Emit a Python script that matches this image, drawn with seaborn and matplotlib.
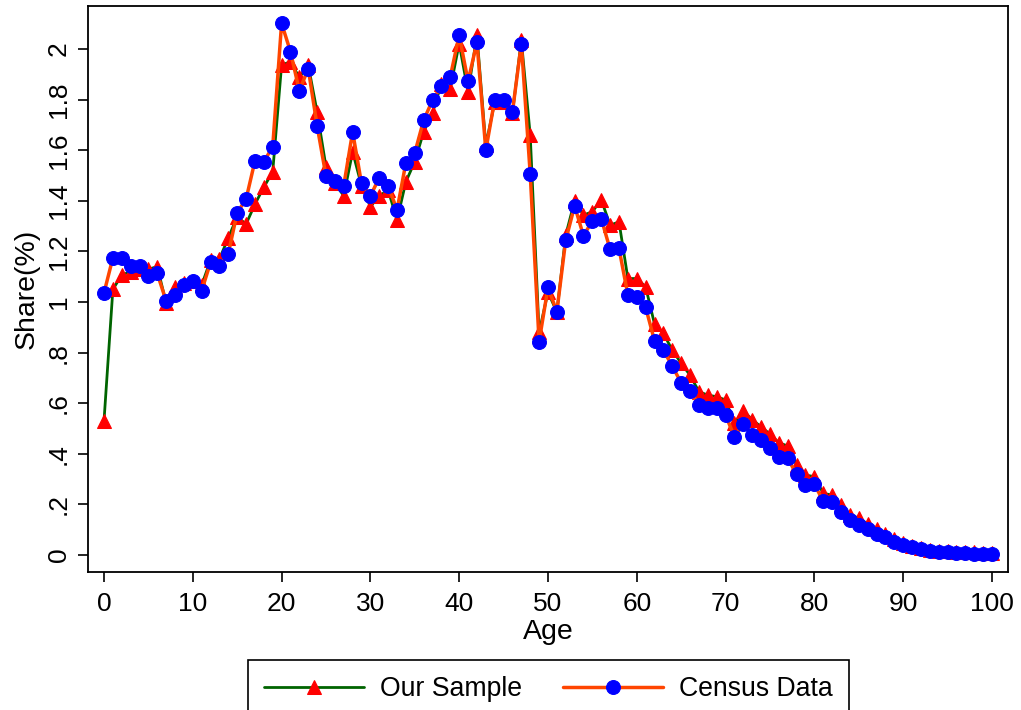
import matplotlib
matplotlib.use("Agg")
import matplotlib.pyplot as plt
import seaborn as sns

# Age in years
ages = list(range(101))

# Share (%) by age - our sample (red triangles, green line)
sample_share = [
    0.53, 1.05, 1.107, 1.12, 1.13, 1.13, 1.14, 0.996, 1.06, 1.075,
    1.085, 1.067, 1.166, 1.17, 1.254, 1.337, 1.308, 1.387, 1.454, 1.515,
    1.937, 1.95, 1.888, 1.937, 1.752, 1.535, 1.47, 1.42, 1.594, 1.46,
    1.377, 1.42, 1.443, 1.324, 1.476, 1.555, 1.673, 1.748, 1.864, 1.844,
    2.022, 1.831, 2.055, 1.62, 1.79, 1.79, 1.747, 2.036, 1.66, 0.88,
    1.04, 0.96, 1.265, 1.4, 1.344, 1.357, 1.405, 1.304, 1.317, 1.093,
    1.093, 1.06, 0.913, 0.876, 0.81, 0.758, 0.711, 0.646, 0.632, 0.626,
    0.613, 0.52, 0.57, 0.535, 0.507, 0.478, 0.444, 0.431, 0.356, 0.316,
    0.31, 0.244, 0.237, 0.198, 0.16, 0.145, 0.123, 0.102, 0.082, 0.063,
    0.048, 0.036, 0.027, 0.021, 0.017, 0.014, 0.012, 0.011, 0.01, 0.009,
    0.009,
]

# Share (%) by age - census data (blue circles, orange line)
census_share = [
    1.036, 1.175, 1.175, 1.143, 1.143, 1.105, 1.113, 1.004, 1.028, 1.067,
    1.084, 1.045, 1.157, 1.143, 1.192, 1.353, 1.407, 1.558, 1.555, 1.614,
    2.102, 1.99, 1.835, 1.923, 1.697, 1.498, 1.478, 1.46, 1.673, 1.469,
    1.42, 1.491, 1.46, 1.364, 1.551, 1.59, 1.719, 1.798, 1.854, 1.891,
    2.055, 1.873, 2.027, 1.6, 1.8, 1.798, 1.752, 2.022, 1.506, 0.843,
    1.058, 0.962, 1.245, 1.38, 1.262, 1.321, 1.33, 1.208, 1.212, 1.028,
    1.021, 0.979, 0.847, 0.81, 0.747, 0.681, 0.65, 0.593, 0.58, 0.58,
    0.553, 0.468, 0.518, 0.476, 0.456, 0.423, 0.389, 0.382, 0.319, 0.277,
    0.28, 0.213, 0.211, 0.169, 0.138, 0.12, 0.103, 0.085, 0.07, 0.053,
    0.04, 0.03, 0.022, 0.016, 0.012, 0.01, 0.008, 0.007, 0.006, 0.006,
    0.006,
]

x_ticks = [0, 10, 20, 30, 40, 50, 60, 70, 80, 90, 100]
y_ticks = [0, 0.2, 0.4, 0.6, 0.8, 1.0, 1.2, 1.4, 1.6, 1.8, 2.0]
y_tick_labels = ['0', '.2', '.4', '.6', '.8', '1', '1.2', '1.4', '1.6', '1.8', '2']

sns.set_style("ticks")
plt.rcParams['font.family'] = ['Liberation Sans', 'DejaVu Sans']
plt.rcParams['text.color'] = 'black'
plt.rcParams['axes.labelcolor'] = 'black'

fig = plt.figure(figsize=(10.21, 7.10), dpi=100)
ax = fig.add_axes([0.0862, 0.1944, 0.901, 0.797])

sns.lineplot(x=ages, y=sample_share, ax=ax, color='#006400', linewidth=2,
             marker='^', markersize=10.5, markerfacecolor='red',
             markeredgecolor='red', label='Our Sample')
sns.lineplot(x=ages, y=census_share, ax=ax, color='#FF4500', linewidth=2.5,
             marker='o', markersize=10, markerfacecolor='blue',
             markeredgecolor='blue', label='Census Data')

ax.set_xlim(-1.8, 101.8)
ax.set_ylim(-0.067, 2.17)
ax.set_xticks(x_ticks)
ax.set_xticklabels([str(t) for t in x_ticks])
ax.set_yticks(y_ticks)
ax.set_yticklabels(y_tick_labels, rotation=90, va='center')

ax.tick_params(direction='out', length=7.5, width=1.2, colors='black',
               labelsize=19)
ax.tick_params(axis='x', pad=7)
ax.tick_params(axis='y', pad=5)
for s in ax.spines.values():
    s.set_color('black')
    s.set_linewidth(1.3)

ax.set_xlabel('Age', fontsize=20.5, labelpad=2)
ax.set_ylabel('Share(%)', fontsize=20.5, labelpad=5)

leg = ax.legend(loc='upper center', bbox_to_anchor=(0.5372, 0.0704),
                bbox_transform=fig.transFigure, borderaxespad=0, ncol=2,
                frameon=True, fancybox=False, edgecolor='black', framealpha=1,
                fontsize=19.2, handlelength=3.75, handletextpad=0.6,
                columnspacing=1.55, borderpad=0.6)
leg.get_frame().set_linewidth(1.2)

fig.savefig('out.png', dpi=100)
